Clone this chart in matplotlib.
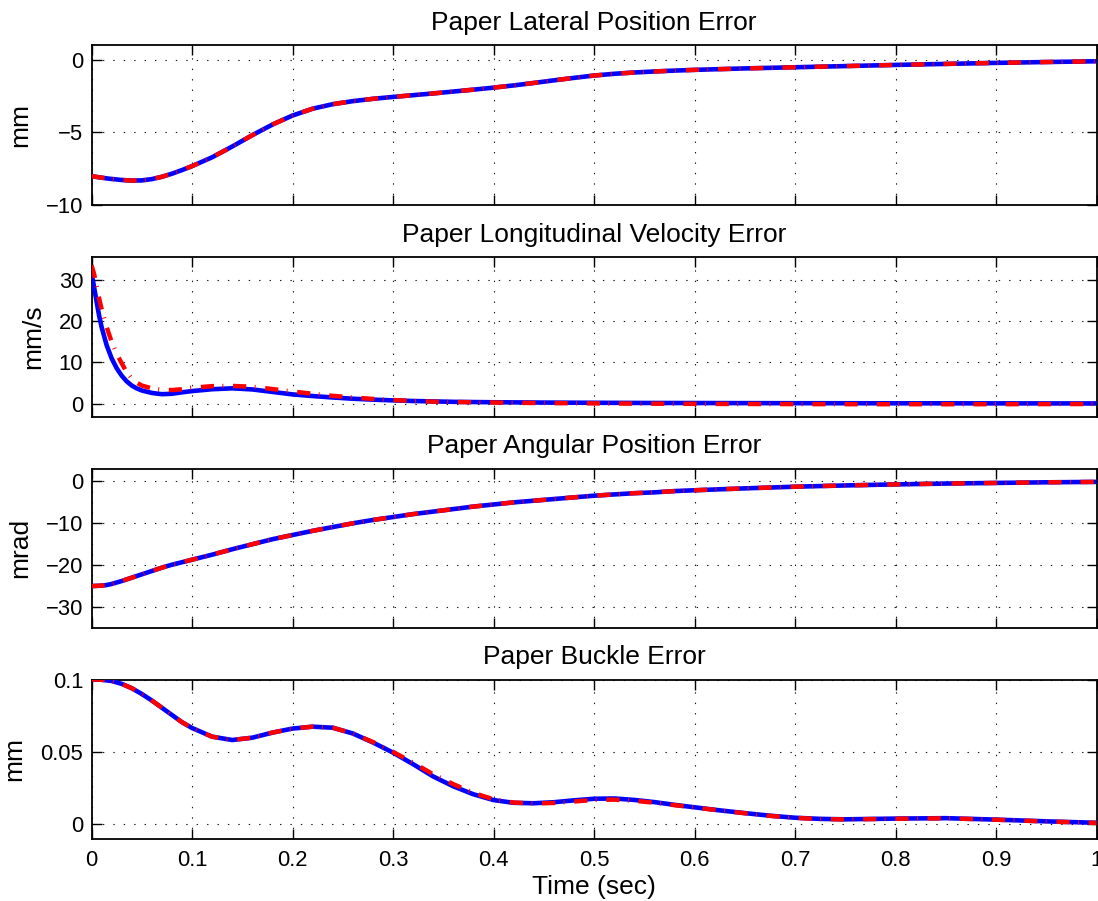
import matplotlib
matplotlib.use("Agg")
import matplotlib.pyplot as plt

# ---- data ----
t = [0, 0.005, 0.01, 0.015, 0.02, 0.03, 0.04, 0.05, 0.06, 0.07, 0.08, 0.09, 0.10,
     0.12, 0.14, 0.16, 0.18, 0.20, 0.22, 0.24, 0.26, 0.28, 0.30, 0.32, 0.34, 0.36,
     0.38, 0.40, 0.42, 0.44, 0.46, 0.48, 0.50, 0.52, 0.54, 0.56, 0.58, 0.60, 0.625,
     0.65, 0.675, 0.70, 0.725, 0.75, 0.80, 0.85, 0.90, 0.95, 1.00]

lat_blue = [-8.02, -8.07, -8.12, -8.17, -8.21, -8.28, -8.32, -8.31, -8.22, -8.06, -7.85, -7.60, -7.33,
            -6.72, -5.98, -5.20, -4.47, -3.85, -3.38, -3.07, -2.86, -2.70, -2.57, -2.45, -2.33, -2.20,
            -2.07, -1.93, -1.78, -1.61, -1.43, -1.26, -1.10, -0.98, -0.89, -0.82, -0.76, -0.71, -0.66,
            -0.61, -0.57, -0.53, -0.49, -0.45, -0.37, -0.30, -0.23, -0.17, -0.12]
lat_red = [-8.02, -8.07, -8.12, -8.17, -8.21, -8.28, -8.32, -8.31, -8.22, -8.06, -7.85, -7.60, -7.33,
           -6.72, -5.98, -5.20, -4.47, -3.85, -3.38, -3.07, -2.86, -2.70, -2.57, -2.45, -2.33, -2.20,
           -2.07, -1.93, -1.78, -1.61, -1.43, -1.26, -1.10, -0.98, -0.89, -0.82, -0.76, -0.71, -0.66,
           -0.61, -0.57, -0.53, -0.49, -0.45, -0.37, -0.30, -0.23, -0.17, -0.12]

t_vel = [0, 0.0025, 0.005, 0.0075, 0.01, 0.015, 0.02, 0.025, 0.03, 0.035, 0.04, 0.045, 0.05,
         0.06, 0.07, 0.08, 0.09, 0.10, 0.12, 0.14, 0.16, 0.18, 0.20, 0.22, 0.24, 0.26,
         0.28, 0.30, 0.32, 0.34, 0.36, 0.38, 0.40, 0.45, 0.50, 0.55, 0.60, 0.65, 0.70,
         0.75, 0.80, 0.85, 0.90, 0.95, 1.00]
vel_blue = [31.8, 28.3, 24.8, 21.4, 18.6, 14.2, 11.0, 8.6, 6.8, 5.4, 4.4, 3.7, 3.2,
            2.6, 2.3, 2.4, 2.75, 3.05, 3.5, 3.72, 3.45, 2.85, 2.25, 1.85, 1.5, 1.2,
            0.98, 0.8, 0.65, 0.55, 0.45, 0.4, 0.35, 0.27, 0.22, 0.18, 0.16, 0.14, 0.12,
            0.11, 0.10, 0.09, 0.08, 0.07, 0.06]
vel_red = [33.5, 31.5, 28.5, 25.6, 23.0, 18.6, 15.0, 12.1, 9.8, 7.6, 6.1, 5.1, 4.4,
           3.7, 3.35, 3.3, 3.5, 3.85, 4.25, 4.3, 4.1, 3.55, 2.95, 2.4, 1.9, 1.5,
           1.15, 0.9, 0.65, 0.5, 0.42, 0.35, 0.28, 0.15, 0.07, 0.01, -0.04, -0.07, -0.10,
           -0.12, -0.13, -0.13, -0.12, -0.10, -0.08]

ang_blue = [-25.1, -25.05, -25.0, -24.85, -24.6, -23.9, -23.1, -22.3, -21.5, -20.7, -20.0, -19.4, -18.8,
            -17.6, -16.3, -15.1, -13.9, -12.9, -11.9, -11.0, -10.1, -9.3, -8.6, -7.9, -7.3, -6.7,
            -6.1, -5.6, -5.1, -4.7, -4.3, -3.9, -3.5, -3.2, -2.9, -2.7, -2.4, -2.2, -1.97,
            -1.75, -1.55, -1.35, -1.2, -1.05, -0.8, -0.6, -0.45, -0.3, -0.2]
ang_red = [-25.1, -25.05, -25.0, -24.85, -24.6, -23.9, -23.1, -22.3, -21.5, -20.7, -20.0, -19.4, -18.8,
           -17.6, -16.3, -15.1, -13.9, -12.9, -11.9, -11.0, -10.1, -9.3, -8.6, -7.9, -7.3, -6.7,
           -6.1, -5.6, -5.1, -4.7, -4.3, -3.9, -3.5, -3.2, -2.9, -2.7, -2.4, -2.2, -1.97,
           -1.75, -1.55, -1.35, -1.2, -1.05, -0.8, -0.6, -0.45, -0.3, -0.2]

buck_blue = [0.1000, 0.09995, 0.0998, 0.0994, 0.0990, 0.0970, 0.0940, 0.0900, 0.0855, 0.0805, 0.0755, 0.0705, 0.0665,
             0.0605, 0.0582, 0.0598, 0.0633, 0.0661, 0.0674, 0.0667, 0.0627, 0.0565, 0.0495, 0.0415, 0.0330, 0.0262,
             0.0207, 0.0167, 0.0148, 0.0145, 0.0152, 0.0165, 0.0176, 0.0178, 0.0168, 0.0153, 0.0134, 0.0117, 0.0096,
             0.0077, 0.0059, 0.0045, 0.0037, 0.0034, 0.0039, 0.0042, 0.0032, 0.0020, 0.0010]
buck_red = [0.1000, 0.09995, 0.0998, 0.0994, 0.0990, 0.0970, 0.0940, 0.0900, 0.0855, 0.0805, 0.0755, 0.0705, 0.0665,
            0.0605, 0.0582, 0.0598, 0.0633, 0.0661, 0.0674, 0.0667, 0.0627, 0.0568, 0.0500, 0.0425, 0.0345, 0.0277,
            0.0217, 0.0172, 0.0150, 0.0143, 0.0147, 0.0157, 0.0168, 0.0170, 0.0162, 0.0149, 0.0132, 0.0116, 0.0095,
            0.0076, 0.0058, 0.0044, 0.0036, 0.0033, 0.0038, 0.0041, 0.0031, 0.0019, 0.0009]

titles = ["Paper Lateral Position Error", "Paper Longitudinal Velocity Error",
          "Paper Angular Position Error", "Paper Buckle Error"]
ylabels = ["mm", "mm/s", "mrad", "mm"]
ylims = [(-10, 1), (-3.1, 35.5), (-35, 3), (-0.0102, 0.1)]
yticks = [[-10, -5, 0], [0, 10, 20, 30], [-30, -20, -10, 0], [0, 0.05, 0.1]]
yticklabels = [["\u221210", "\u22125", "0"], ["0", "10", "20", "30"],
               ["\u221230", "\u221220", "\u221210", "0"], ["0", "0.05", "0.1"]]
xticks = [0, 0.1, 0.2, 0.3, 0.4, 0.5, 0.6, 0.7, 0.8, 0.9, 1.0]
xticklabels = ["0", "0.1", "0.2", "0.3", "0.4", "0.5", "0.6", "0.7", "0.8", "0.9", "1"]
xlabel = "Time (sec)"

series = [(t, lat_blue, lat_red), (t_vel, vel_blue, vel_red),
          (t, ang_blue, ang_red), (t, buck_blue, buck_red)]

# ---- styling ----
plt.rcParams['font.family'] = ['Liberation Sans', 'DejaVu Sans']
plt.rcParams['lines.scale_dashes'] = False

fig = plt.figure(figsize=(10.98, 9.01), dpi=100)
W, H = 1098.0, 901.0
left_px, right_px = 91.5, 1096.5
tops = [45, 257, 468.5, 679.5]
bottoms = [205, 416.5, 627.5, 839]

for i in range(4):
    ax = fig.add_axes([left_px / W, (H - bottoms[i]) / H,
                       (right_px - left_px) / W, (bottoms[i] - tops[i]) / H])
    tt, b, r = series[i]
    ax.plot(tt, b, color=(0, 0, 1), lw=3.3, solid_capstyle='butt', solid_joinstyle='round', zorder=3)
    ax.plot(tt, r, color=(1, 0, 0), lw=3.2, linestyle=(0, (9.5, 6.0, 0.7, 7.0)),
            dash_capstyle='butt', dash_joinstyle='round', zorder=4)
    ax.set_xlim(0, 1)
    ax.set_ylim(*ylims[i])
    ax.set_yticks(yticks[i])
    ax.set_yticklabels(yticklabels[i])
    ax.set_xticks(xticks)
    if i == 3:
        ax.set_xticklabels(xticklabels)
        ax.set_xlabel(xlabel, fontsize=19, labelpad=3)
    else:
        ax.set_xticklabels([])
    ax.set_title(titles[i], fontsize=19, pad=11)
    ax.set_ylabel(ylabels[i], fontsize=19, labelpad=10)
    ax.tick_params(direction='in', length=7, width=1.0, top=True, right=True,
                   labelsize=15.8, pad=6, colors='k')
    ax.tick_params(axis='x', pad=8)
    ax.grid(True, color='k', linewidth=0.8, linestyle=(0, (1.0, 6.5)), alpha=0.9)
    ax.set_axisbelow(True)
    for sp in ax.spines.values():
        sp.set_linewidth(1.3)

fig.savefig("out.png", dpi=100)
